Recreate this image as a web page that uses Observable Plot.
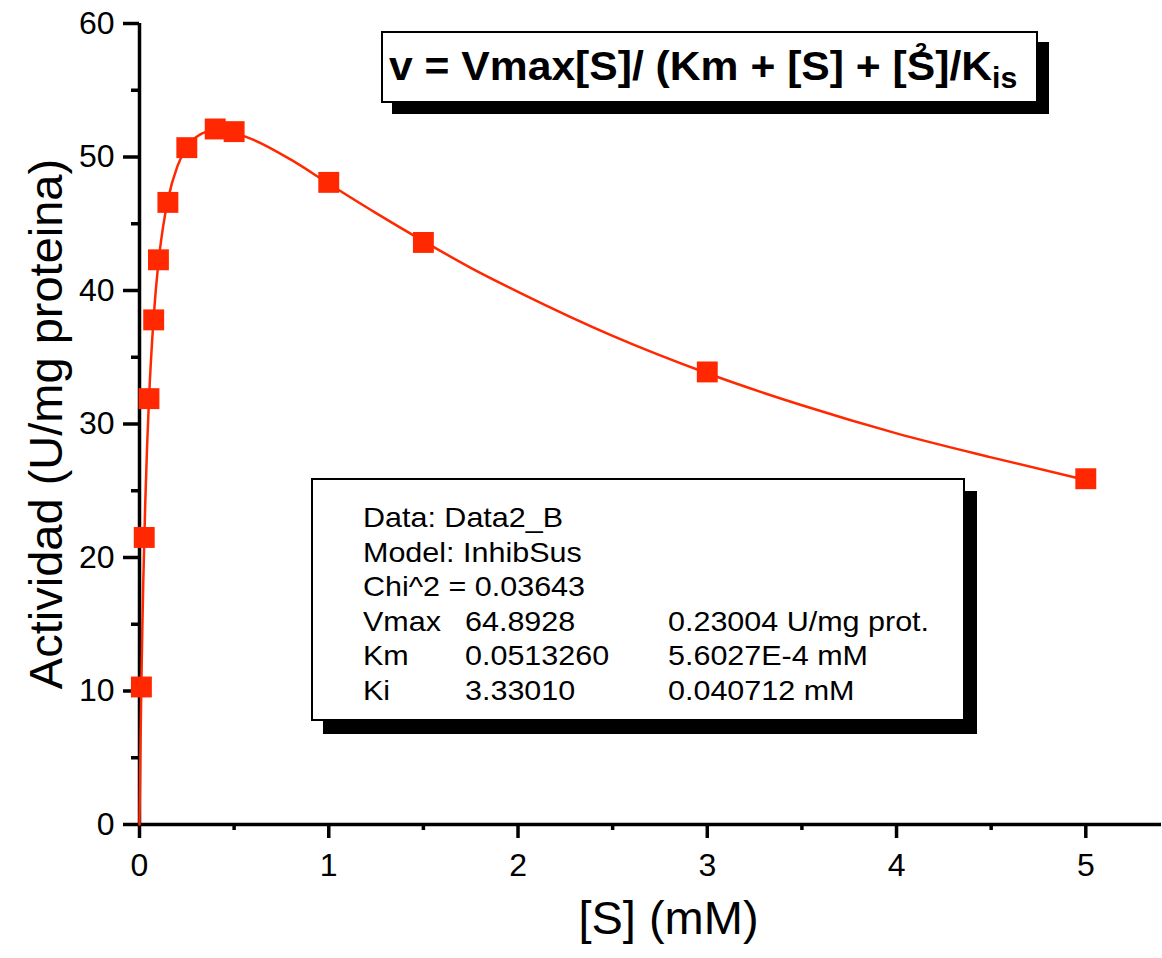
<!DOCTYPE html>
<html>
<head>
<meta charset="utf-8">
<script src="https://cdn.jsdelivr.net/npm/d3@7"></script>
<script src="https://cdn.jsdelivr.net/npm/@observablehq/plot@0.6"></script>
<style>
  html, body { margin: 0; padding: 0; background: #fff; }
  #wrap { position: relative; width: 1162px; height: 958px; font-family: "Liberation Sans", Arial, sans-serif; color: #000; }
  #wrap svg { position: absolute; left: 0; top: 0; }
  #wrap svg g[aria-label$="-axis tick"] { stroke-width: 3.5px; stroke: #000; }
  .box { position: absolute; background: #fff; border: 2px solid #000; box-sizing: border-box; }
  #title { left: 381px; top: 31px; width: 657px; height: 72px; box-shadow: 11px 11px 0 #000; }
  #title .txt { position: absolute; left: 6px; top: 13px; font-size: 41px; line-height: 41px; font-weight: bold; white-space: nowrap; transform: scaleX(1.04); transform-origin: left center; }
  #title .sup { position: relative; }
  #title .sup i { position: absolute; font-style: normal; font-size: 21px; left: 8px; top: -14px; }
  #title sub { font-size: 29px; vertical-align: -8px; line-height: 0; }
  #legend { left: 311px; top: 478px; width: 654px; height: 243px; box-shadow: 12px 13px 0 #000; }
  #legend .row { position: absolute; height: 35px; font-size: 28.5px; line-height: 34.6px; white-space: nowrap; }
  #legend .cell { position: absolute; top: 0; transform: scaleX(1.07); transform-origin: left center; }
</style>
</head>
<body>
<div id="wrap"></div>
<script>
// Measured data points
const dataS = [0.01, 0.025, 0.05, 0.075, 0.1, 0.15, 0.25, 0.4, 0.5, 1.0, 1.5, 3.0, 5.0];
const dataV = [10.3, 21.5, 31.9, 37.8, 42.3, 46.6, 50.7, 52.1, 51.9, 48.1, 43.6, 33.9, 25.9];

// Fitted curve
const fitS = [0, 0.0025, 0.005, 0.01, 0.015, 0.02, 0.03, 0.04, 0.05, 0.075, 0.1, 0.125, 0.15, 0.2, 0.25, 0.3, 0.4, 0.5, 0.6, 0.8, 1.0, 1.25, 1.5, 1.75, 2.0, 2.5, 3.0, 3.5, 4.0, 4.5, 5.0];
const fitV = [0, 3.0, 5.8, 10.6, 14.7, 18.2, 23.9, 28.3, 31.8, 38.0, 42.1, 44.8, 46.8, 49.3, 50.7, 51.5, 52.0, 51.8, 51.3, 49.8, 48.0, 45.8, 43.7, 41.7, 39.9, 36.6, 33.8, 31.4, 29.3, 27.5, 25.8];

// Axis ticks
const xMajor = [0, 1, 2, 3, 4, 5];
const xMinor = [0.5, 1.5, 2.5, 3.5, 4.5];
const yMajor = [0, 10, 20, 30, 40, 50, 60];
const yMinor = [5, 15, 25, 35, 45, 55];

// Texts
const xTitle = "[S] (mM)";
const yTitle = "Actividad (U/mg proteina)";
const legendRows = [
  ["Data: Data2_B"],
  ["Model: InhibSus"],
  ["Chi^2 = 0.03643"],
  ["Vmax", "64.8928", "0.23004 U/mg prot."],
  ["Km", "0.0513260", "5.6027E-4 mM"],
  ["Ki", "3.33010", "0.040712 mM"]
];

const RED = "#ff2800";
const points = dataS.map((s, i) => ({s, v: dataV[i]}));
const fit = fitS.map((s, i) => ({s, v: fitV[i]}));

const chart = Plot.plot({
  width: 1162,
  height: 958,
  marginLeft: 139,
  marginRight: 1,
  marginTop: 23,
  marginBottom: 134,
  style: {fontFamily: "Liberation Sans, Arial, sans-serif", color: "#000", background: "transparent", overflow: "visible"},
  x: {domain: [0, 5.4]},
  y: {domain: [0, 60]},
  marks: [
    Plot.axisY(yMajor, {tickSize: 16, tickPadding: 9, fontSize: 32, stroke: "#000", strokeWidth: 3.5, label: null, tickFormat: d => String(d)}),
    Plot.axisY(yMinor, {tickSize: 8, text: null, stroke: "#000", strokeWidth: 3.5, label: null}),
    Plot.axisX(xMajor, {tickSize: 14, tickPadding: 15, fontSize: 32, stroke: "#000", strokeWidth: 3.5, label: null, tickFormat: d => String(d)}),
    Plot.axisX(xMinor, {tickSize: 6, text: null, stroke: "#000", strokeWidth: 3.5, label: null}),
    Plot.ruleX([0], {strokeWidth: 3.5}),
    Plot.ruleY([0], {strokeWidth: 3.5}),
    Plot.line(fit, {x: "s", y: "v", stroke: RED, strokeWidth: 2.5, curve: "monotone-x"}),
    Plot.dot(points, {x: "s", y: "v", symbol: "square", r: 11.8, fill: RED, stroke: null}),
    Plot.text([xTitle], {frameAnchor: "bottom", dy: 109, dx: 18, fontSize: 47, fill: "#000"}),
    Plot.text([yTitle], {frameAnchor: "left", textAnchor: "middle", rotate: -90, dx: -93, fontSize: 47, fill: "#000"})
  ]
});

const wrap = document.getElementById("wrap");
wrap.appendChild(chart);

// Title box
const title = document.createElement("div");
title.className = "box";
title.id = "title";
title.innerHTML = '<div class="txt">v = Vmax[S]/ (Km + [S] + [<span class="sup">S<i>2</i></span>]/K<sub>is</sub></div>';
wrap.appendChild(title);

// Legend box
const legend = document.createElement("div");
legend.className = "box";
legend.id = "legend";
const colX = [50, 152, 355];
legendRows.forEach((row, i) => {
  const r = document.createElement("div");
  r.className = "row";
  r.style.top = (20 + i * 34.6) + "px";
  r.style.left = "0px";
  row.forEach((t, j) => {
    const c = document.createElement("span");
    c.className = "cell";
    c.style.left = colX[j] + "px";
    c.textContent = t;
    r.appendChild(c);
  });
  legend.appendChild(r);
});
wrap.appendChild(legend);
</script>
</body>
</html>
